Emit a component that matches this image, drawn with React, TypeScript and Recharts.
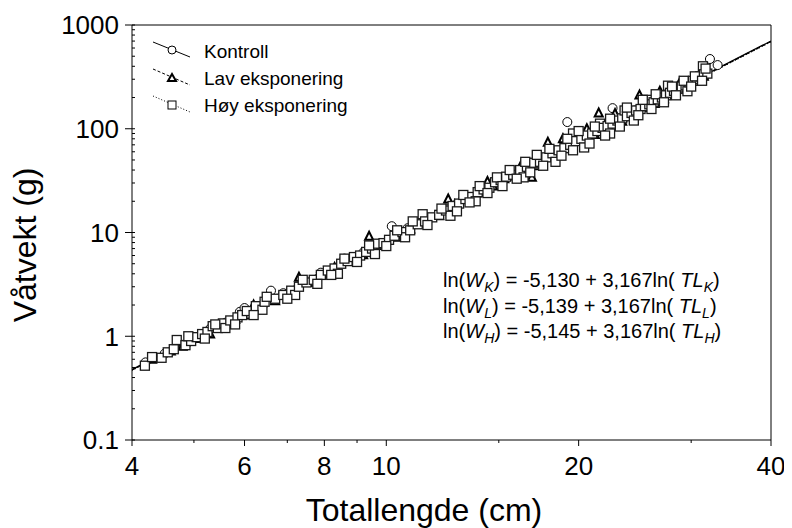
import { ScatterChart, Scatter, XAxis, YAxis, ReferenceLine, Customized } from 'recharts'

// totallengde (cm), våtvekt (g)
const kontroll: [number, number][] = [
    [4.2, 0.56], [4.5, 0.68], [4.9, 0.88], [5.3, 1.18], [5.6, 1.35], [5.9, 1.72], [6.0, 1.87],
    [6.6, 2.75], [6.9, 2.6], [7.4, 3.4], [7.9, 4.1], [8.6, 5.6], [9.2, 6.4], [10.2, 11.5],
    [10.8, 11], [11.6, 13], [12.4, 17], [13.2, 21], [14.0, 24], [14.8, 30], [15.6, 35],
    [16.5, 42], [17.4, 50], [18.2, 57], [19.2, 116], [20.3, 80], [21.0, 88], [22.0, 100],
    [22.6, 158], [23.5, 125], [24.5, 150], [25.5, 165], [26.5, 185], [27.5, 210], [28.5, 240],
    [29.5, 265], [30.5, 300], [31.3, 330], [32.1, 470], [33.0, 411],
]

const lav: [number, number][] = [
    [4.3, 0.6], [4.6, 0.72], [4.8, 0.8], [5.1, 0.95], [5.3, 1.05], [5.5, 1.25], [5.8, 1.45],
    [6.1, 1.6], [6.2, 2.0], [6.4, 2.1], [6.7, 2.2], [7.0, 2.6], [7.3, 3.7], [7.6, 3.3],
    [8.0, 4.0], [8.3, 4.6], [8.8, 5.5], [9.2, 6.1], [9.4, 9.2], [9.8, 7.5], [10.4, 9.0],
    [10.9, 10.8], [11.5, 12.6], [12.1, 14.5], [12.8, 18.5], [13.4, 21.5], [14.1, 25],
    [14.7, 28], [15.3, 33], [16.0, 37], [16.9, 34], [17.2, 44], [17.9, 74], [18.5, 58],
    [19.3, 68], [20.1, 76], [21.5, 142], [21.2, 88], [22.3, 102], [23.4, 118], [24.1, 132],
    [24.9, 211], [25.6, 160], [26.3, 175], [27.2, 195], [28.1, 220], [29.0, 240],
    [29.8, 265], [30.6, 290], [31.4, 320], [12.5, 21], [14.4, 31], [16.3, 46], [18.9, 80],
    [20.6, 100], [22.8, 140], [26.8, 230], [28.8, 280],
]

const hoy: [number, number][] = [
    [4.19, 0.52], [4.3, 0.63], [4.45, 0.62], [4.55, 0.7], [4.65, 0.75], [4.7, 0.92],
    [4.85, 0.82], [4.95, 0.9], [5.05, 0.98], [5.15, 1.05], [5.25, 1.1], [5.35, 1.25],
    [5.45, 1.2], [5.55, 1.33], [5.6, 1.2], [5.7, 1.42], [5.85, 1.52], [5.95, 1.6],
    [6.05, 1.75], [6.25, 1.95], [6.4, 1.8], [6.45, 2.15], [6.7, 2.3], [6.9, 2.5],
    [7.1, 2.75], [7.2, 2.5], [7.3, 3.0], [7.5, 3.3], [7.7, 3.5], [7.9, 3.9], [8.1, 4.3],
    [8.3, 4.5], [8.4, 4.0], [8.5, 5.0], [8.7, 5.3], [8.9, 5.8], [9.1, 6.0], [9.3, 6.5],
    [9.5, 7.0], [9.6, 6.2], [9.7, 7.8], [9.9, 7.9], [10.1, 8.5], [10.3, 9.3], [10.6, 10.1],
    [10.7, 9.0], [10.9, 10.5], [11.2, 12.0], [11.4, 15.0], [11.5, 12.8], [11.8, 14.0],
    [12.1, 14.8], [12.4, 16.3], [12.6, 14.5], [12.7, 18.0], [13.0, 19.0], [13.3, 21.0],
    [13.6, 22.0], [13.8, 20.0], [13.9, 24.5], [14.2, 26.0], [14.5, 27.0], [14.8, 30.5],
    [15.1, 32.0], [15.4, 34.5], [15.8, 36], [16.2, 40], [16.4, 34], [16.6, 43], [17.0, 47],
    [17.4, 48], [17.8, 53], [18.2, 58], [18.4, 48], [18.6, 62], [19.0, 65], [19.4, 70],
    [19.6, 90], [19.8, 76], [20.2, 80], [20.4, 66], [20.6, 86], [21.0, 90], [21.4, 95],
    [21.6, 112], [21.8, 102], [22.2, 106], [22.4, 90], [22.6, 112], [23.0, 120], [23.4, 126],
    [23.6, 150], [23.8, 132], [24.2, 142], [24.4, 120], [24.6, 150], [25.0, 155], [25.4, 165],
    [25.6, 190], [25.8, 172], [26.2, 180], [26.6, 192], [27.0, 200], [27.4, 210], [27.6, 260],
    [27.8, 222], [28.2, 232], [28.6, 245], [29.0, 255], [29.4, 262], [29.6, 230], [29.8, 280],
    [30.2, 290], [30.6, 300], [31.0, 320], [31.3, 400], [31.4, 335], [31.8, 340],
    [4.9, 1.0], [5.2, 0.95], [5.4, 1.3], [5.8, 1.3], [6.2, 1.6], [6.5, 2.4], [7.0, 2.3],
    [7.4, 3.5], [7.8, 3.2], [8.2, 3.9], [8.6, 5.6], [9.0, 5.2], [9.4, 7.5], [10.0, 7.4],
    [10.4, 10.5], [11.0, 12.8], [11.6, 11.8], [12.2, 17], [12.9, 16], [13.2, 23], [13.5, 19.5],
    [14.0, 28], [14.4, 24], [14.9, 34], [15.2, 28], [15.6, 40], [16.0, 33], [16.5, 48],
    [16.8, 38], [17.2, 56], [17.6, 44], [18.0, 64], [18.8, 55], [19.2, 80], [19.6, 62],
    [20.0, 95], [20.8, 72], [21.2, 105], [22.0, 86], [22.4, 125], [23.2, 105], [23.8, 160],
    [24.8, 135], [25.2, 190], [26.0, 155], [26.4, 215], [27.2, 180], [28.0, 255], [28.4, 210],
    [29.2, 290], [30.0, 255], [30.4, 320], [31.2, 290], [31.6, 380],
]

// ln(W) = a + b ln(TL)
const intercepts = { K: -5.13, L: -5.139, H: -5.145 }
const slope = 3.167
const fitRange = [4, 40]

const xTicks = [4, 5, 6, 7, 8, 9, 10, 15, 20, 30, 40]
const xMajor = [4, 6, 8, 10, 20, 40]
const yMajor = [0.1, 1, 10, 100, 1000]
const yTicks: number[] = []
yMajor.slice(0, -1).forEach(d => {
    for (let i = 1; i < 10; i++) yTicks.push(+(d * i).toPrecision(3))
})
yTicks.push(1000)

const FONT = "'Liberation Sans', Arial, sans-serif"

const toPts = (arr: [number, number][]) => arr.map(([x, y]) => ({ x, y }))
const fitLine = (a: number) => fitRange.map(x => ({ x, y: Math.exp(a + slope * Math.log(x)) }))

const Circle = (p: any) => <circle cx={p.cx} cy={p.cy} r={4.5} fill="#fff" stroke="#000" strokeWidth={1} />
const Tri = (p: any) => (
    <polygon
        points={`${p.cx},${p.cy - 4.5} ${p.cx - 4},${p.cy + 3.5} ${p.cx + 4},${p.cy + 3.5}`}
        fill="#fff" stroke="#000" strokeWidth={2}
    />
)
const Sq = (p: any) => (
    <rect x={p.cx - 4.5} y={p.cy - 4.5} width={9} height={9} fill="#fff" stroke="#1a1a1a" strokeWidth={1.3} />
)
const NoDot = () => <g />

const XTick = (p: any) => {
    const v = p.payload.value
    const major = xMajor.includes(v)
    return (
        <g>
            <line x1={p.x} x2={p.x} y1={p.y} y2={p.y + (major ? 6 : 3)} stroke="#000" />
            {major && (
                <text x={p.x} y={p.y + 35} textAnchor="middle" fontSize={26} fontFamily={FONT} fill="#000">
                    {v}
                </text>
            )}
        </g>
    )
}

const YTick = (p: any) => {
    const v = p.payload.value
    const major = yMajor.includes(v)
    return (
        <g>
            <line x1={major ? p.x - 7 : p.x} x2={p.x + 3} y1={p.y} y2={p.y} stroke="#000" />
            {major && (
                <text x={p.x - 13} y={p.y} dy="0.36em" textAnchor="end" fontSize={26} fontFamily={FONT} fill="#000">
                    {v}
                </text>
            )}
        </g>
    )
}

const Sub = ({ s }: { s: string }) => (
    <>
        <tspan dy={5} fontSize={14} fontStyle="italic">{s}</tspan>
        <tspan dy={-5}>)</tspan>
    </>
)

const Annotations = () => (
    <g fontFamily={FONT} fill="#000">
        <text x={416} y={513} textAnchor="middle" fontSize={32}>Totallengde (cm)</text>
        <text x={28} y={237} textAnchor="middle" fontSize={32} transform="rotate(-90 28 237)">Våtvekt (g)</text>

        {/* legend */}
        <line x1={145} y1={34} x2={182} y2={49} stroke="#000" />
        <circle cx={164} cy={42} r={4} fill="#fff" stroke="#000" />
        <text x={196} y={50} fontSize={19}>Kontroll</text>
        <line x1={145} y1={61} x2={182} y2={77} stroke="#000" strokeDasharray="3 2" />
        <polygon points="164,66 160,73 168,73" fill="#fff" stroke="#000" strokeWidth={2} />
        <text x={196} y={77} fontSize={19}>Lav eksponering</text>
        <line x1={145} y1={88} x2={182} y2={104} stroke="#000" strokeDasharray="1 2" />
        <rect x={160} y={93} width={8} height={8} fill="#fff" stroke="#000" />
        <text x={196} y={104} fontSize={19}>Høy eksponering</text>

        {/* equations */}
        {[['K', '5,130'], ['L', '5,139'], ['H', '5,145']].map(([s, a], i) => (
            <text key={s} x={435} y={279 + i * 25.5} fontSize={20}>
                ln(<tspan fontStyle="italic">W</tspan><Sub s={s} /> = -{a} + 3,167ln( <tspan fontStyle="italic">TL</tspan><Sub s={s} />
            </text>
        ))}
    </g>
)

export default function App() {
    return (
        <ScatterChart width={776} height={520} margin={{ top: 17, right: 13, bottom: 0, left: 0 }}>
            <XAxis
                dataKey="x" type="number" scale="log" domain={[4, 40]} allowDataOverflow
                ticks={xTicks} interval={0} tick={<XTick />} tickLine={false} tickSize={0} tickMargin={0}
                axisLine={{ stroke: '#000' }} height={88}
            />
            <YAxis
                dataKey="y" type="number" scale="log" domain={[0.1, 1000]} allowDataOverflow
                ticks={yTicks} interval={0} tick={<YTick />} tickLine={false} tickSize={0} tickMargin={0}
                axisLine={{ stroke: '#000' }} width={124}
            />
            <ReferenceLine y={1000} stroke="#000" />
            <ReferenceLine x={40} stroke="#000" />
            <Scatter data={fitLine(intercepts.K)} line={{ stroke: '#000', strokeWidth: 1.3 }} shape={NoDot} isAnimationActive={false} />
            <Scatter data={fitLine(intercepts.L)} line={{ stroke: '#000', strokeWidth: 1.3, strokeDasharray: '4 2' }} shape={NoDot} isAnimationActive={false} />
            <Scatter data={fitLine(intercepts.H)} line={{ stroke: '#000', strokeWidth: 1.3, strokeDasharray: '1 2' }} shape={NoDot} isAnimationActive={false} />
            <Scatter name="Kontroll" data={toPts(kontroll)} shape={Circle} isAnimationActive={false} />
            <Scatter name="Lav eksponering" data={toPts(lav)} shape={Tri} isAnimationActive={false} />
            <Scatter name="Høy eksponering" data={toPts(hoy)} shape={Sq} isAnimationActive={false} />
            <Customized component={Annotations} />
        </ScatterChart>
    )
}
